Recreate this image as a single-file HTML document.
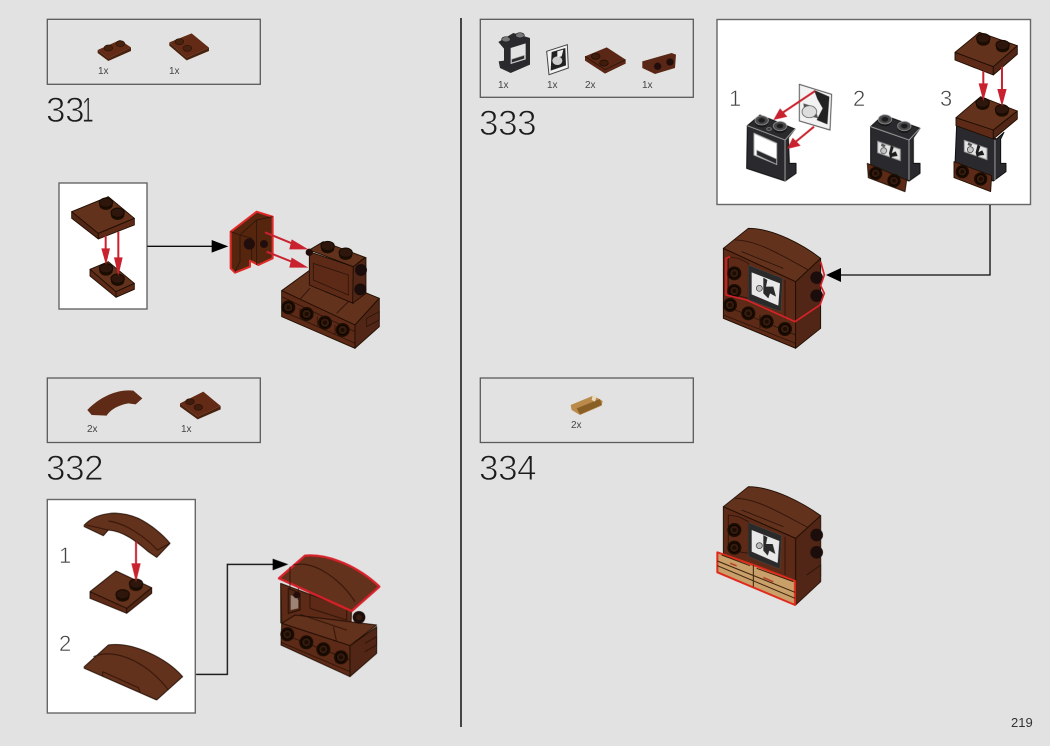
<!DOCTYPE html>
<html><head><meta charset="utf-8"><style>
html,body{margin:0;padding:0;background:#e2e2e2;width:1050px;height:746px;overflow:hidden}
svg{display:block}
.n{font-family:"Liberation Sans",sans-serif;font-size:35px;fill:#1c1c1c;stroke:#e2e2e2;stroke-width:.9;letter-spacing:-.4px}
.q{font-family:"Liberation Sans",sans-serif;font-size:10px;fill:#444}
.s{font-family:"Liberation Sans",sans-serif;font-size:22px;fill:#444;stroke:#fff;stroke-width:.5}
.box{fill:none;stroke:#5a5a5a;stroke-width:1.3}
.ins{fill:#fff;stroke:#666;stroke-width:1.4}
.t{fill:#63301a;stroke:#1e0d05;stroke-width:2.6;stroke-linejoin:round}
.f{fill:#5c2b15;stroke:#1e0d05;stroke-width:2.6;stroke-linejoin:round}
.r{fill:#512612;stroke:#1e0d05;stroke-width:2.6;stroke-linejoin:round}
.l{fill:none;stroke:#2a1208;stroke-width:2.4}
.red{stroke:#c9242f;fill:none;stroke-width:6}
.rh{fill:#c9242f}
.k{fill:#241008}
.g{fill:#2b2b2d;stroke:#111;stroke-width:3;stroke-linejoin:round}
.e{fill:none;stroke:#b5b5b5;stroke-width:2.5}
</style></head><body>
<svg width="1050" height="746" viewBox="0 0 1050 746" xmlns="http://www.w3.org/2000/svg">
<defs>
<filter id="b" x="-5%" y="-5%" width="110%" height="110%"><feGaussianBlur stdDeviation="0.3"/></filter>
<g id="stud"><ellipse cx="0" cy="5" rx="20" ry="15" fill="#1c0c05"/><ellipse cx="0" cy="-2" rx="20" ry="14" fill="#2e140a" stroke="#150904" stroke-width="3"/></g>
<g id="knob"><circle r="21" fill="#1a0b05"/><circle r="14" fill="#351a0f" stroke="#0e0603" stroke-width="3"/><circle r="6" fill="#1a0b05"/></g>
<g id="gstud"><ellipse cx="0" cy="4" rx="20" ry="15" fill="#161617"/><ellipse cx="0" cy="-2" rx="20" ry="14" fill="#4a4a4c" stroke="#aaa" stroke-width="2"/><ellipse cx="0" cy="-2" rx="10" ry="7" fill="#1b1b1c"/></g>
<g id="pic">
<path d="M-34,-26L34,-2V32L-34,8Z" fill="#e4e4e4" stroke="#999" stroke-width="3"/>
<path d="M6,-14L14,-8L8,10L20,4L26,18L10,20L4,26L0,10Z" fill="#1c1c1c"/>
<circle cx="-16" cy="2" r="9" fill="#c4c4c4" stroke="#333" stroke-width="2"/>
<path d="M-22,-20L-10,-14L-14,-8L-24,-12Z" fill="#555"/>
</g>
</defs>

<rect width="1050" height="746" fill="#e2e2e2"/>
<line x1="461" y1="18" x2="461" y2="727" stroke="#111" stroke-width="1.5"/>
<rect class="box" x="47.3" y="19.3" width="213" height="65"/>
<rect class="box" x="47.3" y="378" width="213" height="64.5"/>
<rect class="box" x="480.3" y="19.3" width="213" height="78"/>
<rect class="box" x="480.3" y="378" width="213" height="64.5"/>
<text class="n" x="46" y="122">33</text><text class="n" transform="translate(82,122) scale(.6,1)">1</text>
<text class="n" x="46" y="480">332</text>
<text class="n" x="479" y="135">333</text>
<text class="n" x="479" y="480">334</text>
<text class="q" x="98" y="74">1x</text><text class="q" x="169" y="74">1x</text>
<text class="q" x="87" y="432">2x</text><text class="q" x="181" y="432">1x</text>
<text class="q" x="498" y="88">1x</text><text class="q" x="547" y="88">1x</text><text class="q" x="585" y="88">2x</text><text class="q" x="642" y="88">1x</text>
<text class="q" x="571" y="428">2x</text>
<text x="1011" y="727" font-family="'Liberation Sans',sans-serif" font-size="13" fill="#333">219</text>

<rect class="ins" x="59" y="183" width="88" height="126"/>
<rect class="ins" x="47.3" y="499.5" width="148" height="213.5"/>
<rect class="ins" x="717" y="19.5" width="313.5" height="185"/>

<g filter="url(#b)">
<!-- 331 parts -->
<g transform="translate(45,15) scale(.3333)">
<path fill="#4a2010" d="M158,105L190,130L258,97V108L190,138L158,114Z"/><path fill="#632c16" d="M158,105L225,75L258,97L190,130Z"/>
<ellipse cx="190" cy="99" rx="13" ry="9" fill="#4a2010" stroke="#2a1208" stroke-width="2"/><ellipse cx="226" cy="86" rx="13" ry="9" fill="#4a2010" stroke="#2a1208" stroke-width="2"/>
<path fill="#4a2010" d="M373,82L425,128L492,98V108L425,136L373,92Z"/><path fill="#632c16" d="M373,82L440,55L492,98L425,128Z"/>
<ellipse cx="403" cy="80" rx="13" ry="9" fill="#4a2010" stroke="#2a1208" stroke-width="2"/><ellipse cx="427" cy="100" rx="13" ry="9" fill="#4a2010" stroke="#2a1208" stroke-width="2"/>
</g>
<!-- 332 parts -->
<g transform="translate(45,375) scale(.3333)">
<path fill="#5e2a14" d="M127,105C170,60 225,42 265,47L292,70L272,88L250,85C220,90 195,105 185,122L140,120Z"/>
<path fill="#4a2010" d="M405,85L458,125L527,93V103L458,133L405,95Z"/><path fill="#632c16" d="M405,85L475,50L527,93L458,125Z"/>
<ellipse cx="435" cy="80" rx="13" ry="9" fill="#3f1c0d" stroke="#2a1208" stroke-width="2"/><ellipse cx="460" cy="97" rx="13" ry="9" fill="#3f1c0d" stroke="#2a1208" stroke-width="2"/>
</g>
<!-- 333 parts -->
<g transform="translate(480,18) scale(.3333)">
<path fill="#2b2b2d" d="M55,72L100,45L150,60V140L92,165L60,150L56,130L72,128V92Z"/>
<path fill="#e2e2e2" d="M92,90L137,76V124L92,138Z"/><path fill="#2b2b2d" stroke="#999" stroke-width="2" d="M95,124L133,112V122L95,134Z"/>
<ellipse cx="78" cy="64" rx="13" ry="8" fill="#777" stroke="#222" stroke-width="2"/><ellipse cx="120" cy="52" rx="13" ry="8" fill="#777" stroke="#222" stroke-width="2"/>
<path fill="#f2f2f2" stroke="#444" stroke-width="3" d="M200,100L262,80L265,150L207,170Z"/><path fill="#222" d="M215,102L256,90L258,142L212,158Z"/><ellipse cx="232" cy="128" rx="15" ry="13" fill="#ccc"/><path fill="#eee" d="M232,100L250,95L245,115L232,118Z"/>
<path fill="#5a2812" d="M315,115L380,88L437,125V137L375,167L315,128Z"/>
<path fill="none" stroke="#241008" stroke-width="2" d="M315,115L375,155L437,125"/>
<ellipse cx="347" cy="115" rx="13" ry="9" fill="#3f1c0d" stroke="#1e0d05" stroke-width="2"/><ellipse cx="372" cy="135" rx="13" ry="9" fill="#3f1c0d" stroke="#1e0d05" stroke-width="2"/>
<path fill="#5a2812" d="M487,130L575,105L588,110L585,150L525,168L487,150Z"/>
<circle cx="533" cy="145" r="11" class="k"/><circle cx="570" cy="132" r="11" class="k"/>
</g>
<!-- 334 part -->
<g transform="translate(480,375) scale(.3333)">
<path fill="#b98a4a" d="M272,90L340,62L368,78L365,92L300,120L275,105Z"/>
<path fill="#8a5f28" d="M290,100L360,72L365,90L300,118Z"/><path fill="#e8dcc0" d="M338,60L350,65L345,80L335,75Z"/>
</g>

<!-- step 331 -->
<g transform="translate(40,170) scale(.3333)">
<path class="r" d="M95,125L175,190V207L95,145Z"/><path class="f" d="M175,190L283,145V165L175,207Z"/>
<path class="t" d="M95,125L205,80L283,145L175,190Z"/>
<use href="#stud" x="198" y="100"/><use href="#stud" x="233" y="130"/>
<path class="f" d="M150,298L228,365V382L150,318Z"/><path class="f" d="M228,365L283,340V358L228,382Z"/>
<path class="t" d="M150,298L205,275L283,340L228,365Z"/>
<use href="#stud" x="198" y="297"/><use href="#stud" x="233" y="328"/>
<line class="red" x1="197" y1="197" x2="197" y2="255"/><polygon class="rh" points="184,235 210,235 198,285"/>
<line class="red" x1="235" y1="185" x2="235" y2="290"/><polygon class="rh" points="222,262 248,262 235,318"/>
<line x1="322" y1="229" x2="520" y2="229" stroke="#111" stroke-width="4"/><polygon points="515,210 565,229 515,248" fill="#000"/>
<path d="M572,185L650,125L698,140V265L655,285L630,272V290L585,308L572,295Z" fill="#552510" stroke="#e02a2a" stroke-width="6" stroke-linejoin="round"/>
<path class="l" d="M572,185L600,195V275L585,305M600,195L650,150V285M650,150L698,140M600,195L635,205V272"/>
<circle cx="628" cy="222" r="17" fill="#241008"/><circle cx="672" cy="222" r="12" fill="#241008"/>
<path class="t" d="M725,362L810,300L1018,385L945,465Z"/>
<path class="f" d="M725,362L945,465V535L725,440Z"/>
<path class="r" d="M945,465L1018,385V470L945,535Z"/>
<path class="l" d="M725,380L945,485M780,388L810,355M890,430L925,395M780,415V445M832,440V470M885,465V495M725,422L945,520M980,445L1018,425V450L980,470Z"/>
<use href="#knob" x="745" y="412"/><use href="#knob" x="800" y="432"/><use href="#knob" x="855" y="458"/><use href="#knob" x="908" y="480"/>
<path class="f" d="M808,245L940,290V400L808,345Z"/>
<path class="r" d="M940,290L978,262V370L938,400Z"/>
<path class="t" d="M808,240L850,215L975,262L940,290Z"/>
<path class="l" d="M820,280L925,315V375L820,330Z"/>
<use href="#stud" x="863" y="230"/><use href="#stud" x="917" y="250"/>
<circle cx="963" cy="300" r="18" fill="#1f0e07"/><circle cx="961" cy="358" r="18" fill="#1f0e07"/><circle cx="808" cy="247" r="11" fill="#241008"/>
<line class="red" x1="675" y1="187" x2="780" y2="230"/><polygon class="rh" points="755,208 805,238 748,238"/>
<line class="red" x1="680" y1="245" x2="780" y2="285"/><polygon class="rh" points="755,263 805,293 748,293"/>
</g>

<!-- step 332 -->
<g transform="translate(40,495) scale(.3333)">
<path class="t" d="M133,90C165,55 230,42 295,70C335,90 370,120 390,145L350,187L325,170C290,140 250,108 205,105L190,122L133,95Z"/>
<path class="l" d="M140,90L205,105M205,78C260,85 320,130 352,165L390,145"/>
<path class="f" d="M150,290L260,340V355L150,310Z"/><path class="r" d="M260,340L335,278V295L260,355Z"/>
<path class="t" d="M150,290L228,228L335,278L260,340Z"/>
<use href="#stud" x="248" y="300"/><use href="#stud" x="288" y="268"/>
<line class="red" x1="288" y1="140" x2="288" y2="230"/><polygon class="rh" points="274,205 302,205 288,262"/>
<path class="t" d="M133,515L205,450C280,440 380,490 428,545L350,615L133,520Z"/>
<path class="l" d="M160,485C230,455 330,510 385,585M188,530L295,578L300,590M188,530V545"/>
<path fill="none" stroke="#111" stroke-width="4" d="M468,538H562V208H705"/><polygon points="698,191 745,208 698,226" fill="#000"/>
<!-- model -->
<path class="f" d="M722,265L935,345L932,405L765,360L725,390Z"/>
<path class="t" d="M725,385L765,360L1010,390L930,452Z"/>
<path class="f" d="M725,385L930,452V545L723,450Z"/>
<path class="r" d="M930,452L1010,395V475L930,545Z"/>
<path class="r" d="M745,280L780,295V345L745,355Z"/>
<path fill="#e8e0da" opacity=".5" d="M752,300L775,310V340L752,345Z"/>
<circle cx="770" cy="300" r="10" fill="#241008"/>
<path class="l" d="M722,265V385M745,280V355M775,262V315M810,295L920,340V375L810,340ZM780,358L920,405M880,395L890,440M723,415L930,495M723,442L930,530M975,445L1010,425V450L975,470M888,475V505M838,450V480"/>
<use href="#knob" x="742" y="418"/><use href="#knob" x="799" y="442"/><use href="#knob" x="850" y="463"/><use href="#knob" x="903" y="487"/>
<circle cx="957" cy="367" r="19" fill="#1f0e07"/><circle cx="957" cy="367" r="9" fill="#351a0f"/>
<path d="M717,250L795,182C870,175 960,220 1018,275L935,348Z" fill="#63301a" stroke="#d6202a" stroke-width="7" stroke-linejoin="round"/>
<path class="l" d="M760,210C820,195 900,250 945,320M750,215V280"/>
</g>

<!-- step 333 inset -->
<g transform="translate(710,15) scale(.3333)">
<path class="g" d="M112,332L150,300L255,342L235,368L238,445L258,445V475L225,498L110,460Z"/>
<path fill="#fff" stroke="#b5b5b5" stroke-width="3" d="M132,355L200,385V448L132,420Z"/>
<path fill="#2b2b2d" stroke="#b5b5b5" stroke-width="2" d="M140,405L200,432V448L140,420Z"/>
<path class="e" d="M112,332L225,375L225,498M225,375L255,342"/>
<ellipse cx="177" cy="342" rx="7" ry="4" fill="none" stroke="#999" stroke-width="2"/>
<use href="#gstud" x="155" y="318"/><use href="#gstud" x="210" y="335"/>
<path fill="#f2f2f2" stroke="#555" stroke-width="3" d="M268,208L365,238L360,345L268,318Z"/>
<path fill="#222" d="M312,225L358,245L352,328L320,315L338,280L322,252Z"/>
<path fill="#222" d="M280,265L312,275L325,310L285,300Z" opacity=".75"/>
<ellipse cx="298" cy="290" rx="22" ry="18" fill="#ddd" stroke="#444" stroke-width="2"/>
<line class="red" x1="315" y1="228" x2="215" y2="295"/><polygon class="rh" points="190,315 210,280 232,305"/>
<line class="red" x1="312" y1="335" x2="255" y2="382"/><polygon class="rh" points="232,402 248,368 272,392"/>
<!-- 2 -->
<path class="g" d="M482,335L520,300L630,340L610,368L610,445L630,445V475L597,498L482,455Z"/>
<path class="e" d="M482,335L597,375V495M597,375L630,340"/>
<use href="#pic" transform="translate(537,405)"/>
<use href="#gstud" x="525" y="315"/><use href="#gstud" x="583" y="335"/>
<path class="f" d="M472,445L590,495L585,530L475,488Z"/>
<use href="#knob" transform="translate(497,475) scale(.95)"/><use href="#knob" transform="translate(552,497) scale(.95)"/>
<!-- 3 -->
<path class="g" d="M740,330L860,372L882,352L872,372V445L888,445V470L850,498L735,450Z"/>
<path class="e" d="M855,375V495"/>
<use href="#pic" transform="translate(797,402)"/>
<path class="f" d="M732,440L845,482L842,530L732,488Z"/>
<use href="#knob" transform="translate(757,470) scale(.95)"/><use href="#knob" transform="translate(812,492) scale(.95)"/>
<path class="f" d="M738,308L850,345V372L738,332Z"/><path class="r" d="M850,345L922,288V312L850,372Z"/>
<path class="t" d="M738,308L812,245L922,288L850,345Z"/>
<use href="#stud" x="818" y="265"/><use href="#stud" x="876" y="285"/>
<path class="f" d="M735,112L850,155V180L735,135Z"/><path class="r" d="M850,155L922,92V118L850,180Z"/>
<path class="t" d="M735,112L808,52L922,92L850,155Z"/>
<use href="#stud" x="820" y="72"/><use href="#stud" x="878" y="92"/>
<line class="red" x1="820" y1="168" x2="820" y2="225"/><polygon class="rh" points="806,205 834,205 820,258"/>
<line class="red" x1="876" y1="155" x2="876" y2="235"/><polygon class="rh" points="862,222 890,222 876,275"/>
</g>
<path fill="none" stroke="#111" stroke-width="1.3" d="M990,205V275H840"/>
<polygon points="841,268 826,275 841,282" fill="#000"/>

<!-- step 333 model -->
<g transform="translate(700,215) scale(.3333)">
<path class="f" d="M70,100L287,200V400L70,310Z"/>
<path class="r" d="M287,200L362,130V340L287,400Z"/>
<path class="t" d="M70,100L145,40C220,40 310,90 362,130L287,200Z"/>
<path class="l" d="M105,75C175,75 260,130 325,165M125,110L250,160M70,270L287,360M70,300L287,385M180,300V340M115,130L145,145V250L85,235V125ZM255,195V310"/>
<path fill="#2a2a2a" d="M145,150L248,190L243,290L145,255Z" stroke="#555"/>
<path fill="#e8e8e8" d="M155,172L240,205L235,272L155,238Z"/>
<path fill="#2a2a2a" d="M190,188L202,195L198,215L220,215L228,245L210,235L205,250L190,235Z"/>
<circle cx="178" cy="220" r="9" fill="#bbb" stroke="#333" stroke-width="2"/>
<use href="#knob" x="103" y="175"/><use href="#knob" x="103" y="228"/>
<use href="#knob" x="90" y="270"/><use href="#knob" x="145" y="295"/><use href="#knob" x="200" y="320"/><use href="#knob" x="255" y="342"/>
<circle cx="350" cy="188" r="19" fill="#1f0e07"/><circle cx="350" cy="242" r="19" fill="#1f0e07"/>
<path fill="none" stroke="#d6202a" stroke-width="5" d="M90,125L78,130V240L140,255L285,320L360,270L373,235L362,212L373,180L362,140"/>
</g>

<!-- step 334 model -->
<g transform="translate(700,475) scale(.3333)">
<path class="f" d="M70,95L287,190V390L70,300Z"/>
<path class="r" d="M287,190L362,122V320L287,390Z"/>
<path class="t" d="M70,95L145,35C220,35 310,85 362,122L287,190Z"/>
<path class="l" d="M105,70C175,70 260,125 325,158M125,105L250,155M115,125L145,140V235L85,225V120ZM255,185V300M320,300L362,270V305"/>
<path fill="#2a2a2a" d="M145,142L245,182L240,282L145,245Z" stroke="#555"/>
<path fill="#e8e8e8" d="M155,165L238,198L233,264L155,230Z"/>
<path fill="#2a2a2a" d="M190,180L202,187L198,207L218,207L226,237L208,227L203,242L190,227Z"/>
<circle cx="178" cy="212" r="9" fill="#bbb" stroke="#333" stroke-width="2"/>
<use href="#knob" x="103" y="165"/><use href="#knob" x="103" y="218"/>
<circle cx="350" cy="180" r="19" fill="#1f0e07"/><circle cx="350" cy="232" r="19" fill="#1f0e07"/>
<path d="M52,232L160,270L285,318V390L52,292Z" fill="#c9a06a" stroke="#e02a1f" stroke-width="6" stroke-linejoin="round"/>
<path fill="none" stroke="#3a2008" stroke-width="3" d="M52,258L285,352M52,272L285,370M160,270V335M65,240L150,272M170,280L280,320"/>
<path fill="#b8402a" d="M90,262L110,270V275L90,267ZM190,305L220,318V323L190,310Z"/>
</g>
</g>
<text class="s" x="729" y="106">1</text><text class="s" x="853" y="106">2</text><text class="s" x="940" y="106">3</text>
<text class="s" x="59" y="563">1</text><text class="s" x="59" y="651">2</text>
</svg>
</body></html>
